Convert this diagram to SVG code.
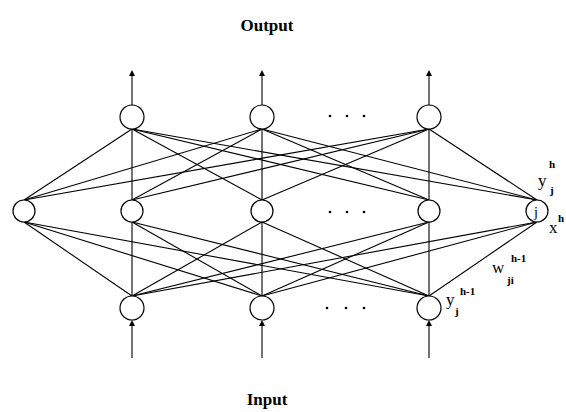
<svg xmlns="http://www.w3.org/2000/svg" width="566" height="412" viewBox="0 0 566 412">
<defs>
<marker id="ah" markerWidth="6" markerHeight="6" refX="3" refY="3" orient="auto" markerUnits="userSpaceOnUse">
<path d="M0,0 L6,3 L0,6 z" fill="#000"/>
</marker>
<style>
.n{fill:#fff;stroke:#000;stroke-width:1.2}
.e{stroke:#000;stroke-width:1.1;fill:none}
.t{font-family:"Liberation Serif",serif;font-weight:bold;font-size:17px;text-anchor:middle}
.l{font-family:"Liberation Serif",serif;font-size:17px}
.s{font-family:"Liberation Serif",serif;font-size:11px;font-weight:bold}
.d{fill:#000}
</style>
</defs>
<rect width="566" height="412" fill="#fff"/>
<text class="t" x="267" y="31">Output</text>
<text class="t" x="267" y="405">Input</text>
<g id="connectors">
<line class="e" x1="132" y1="129" x2="24" y2="200"/>
<line class="e" x1="132" y1="129" x2="132" y2="200"/>
<line class="e" x1="132" y1="129" x2="262" y2="200"/>
<line class="e" x1="132" y1="129" x2="429" y2="200"/>
<line class="e" x1="132" y1="129" x2="537" y2="200"/>
<line class="e" x1="262" y1="129" x2="24" y2="200"/>
<line class="e" x1="262" y1="129" x2="132" y2="200"/>
<line class="e" x1="262" y1="129" x2="262" y2="200"/>
<line class="e" x1="262" y1="129" x2="429" y2="200"/>
<line class="e" x1="262" y1="129" x2="537" y2="200"/>
<line class="e" x1="429" y1="129" x2="24" y2="200"/>
<line class="e" x1="429" y1="129" x2="132" y2="200"/>
<line class="e" x1="429" y1="129" x2="262" y2="200"/>
<line class="e" x1="429" y1="129" x2="429" y2="200"/>
<line class="e" x1="429" y1="129" x2="537" y2="200"/>
<line class="e" x1="24" y1="222" x2="132" y2="296"/>
<line class="e" x1="24" y1="222" x2="262" y2="296"/>
<line class="e" x1="24" y1="222" x2="429" y2="296"/>
<line class="e" x1="132" y1="222" x2="132" y2="296"/>
<line class="e" x1="132" y1="222" x2="262" y2="296"/>
<line class="e" x1="132" y1="222" x2="429" y2="296"/>
<line class="e" x1="262" y1="222" x2="132" y2="296"/>
<line class="e" x1="262" y1="222" x2="262" y2="296"/>
<line class="e" x1="262" y1="222" x2="429" y2="296"/>
<line class="e" x1="429" y1="222" x2="132" y2="296"/>
<line class="e" x1="429" y1="222" x2="262" y2="296"/>
<line class="e" x1="429" y1="222" x2="429" y2="296"/>
<line class="e" x1="537" y1="222" x2="132" y2="296"/>
<line class="e" x1="537" y1="222" x2="262" y2="296"/>
<line class="e" x1="537" y1="222" x2="429" y2="296"/>
<line class="e" x1="132" y1="105" x2="132" y2="73" marker-end="url(#ah)"/>
<line class="e" x1="262" y1="105" x2="262" y2="73" marker-end="url(#ah)"/>
<line class="e" x1="429" y1="105" x2="429" y2="73" marker-end="url(#ah)"/>
<line class="e" x1="132" y1="358" x2="132" y2="323" marker-end="url(#ah)"/>
<line class="e" x1="262" y1="358" x2="262" y2="323" marker-end="url(#ah)"/>
<line class="e" x1="429" y1="358" x2="429" y2="323" marker-end="url(#ah)"/>
</g>
<g id="n-top-1"><circle class="n" cx="132" cy="117" r="12"/></g>
<g id="n-top-2"><circle class="n" cx="262" cy="117" r="12"/></g>
<g id="n-top-3"><circle class="n" cx="429" cy="117" r="12"/></g>
<g id="n-mid-0"><circle class="n" cx="24" cy="211" r="11"/></g>
<g id="n-mid-1"><circle class="n" cx="132" cy="211" r="11"/></g>
<g id="n-mid-2"><circle class="n" cx="262" cy="211" r="11"/></g>
<g id="n-mid-3"><circle class="n" cx="429" cy="211" r="11"/></g>
<g id="n-mid-j"><circle class="n" cx="537" cy="211" r="11"/><text class="l" x="534" y="217" style="font-size:14px">j</text></g>
<g id="n-bot-1"><circle class="n" cx="132" cy="308" r="12"/></g>
<g id="n-bot-2"><circle class="n" cx="262" cy="308" r="12"/></g>
<g id="n-bot-3"><circle class="n" cx="429" cy="308" r="12"/></g>
<g id="dots">
<circle class="d" cx="330" cy="116" r="1.3"/><circle class="d" cx="347" cy="116" r="1.3"/><circle class="d" cx="364" cy="116" r="1.3"/>
<circle class="d" cx="330" cy="212" r="1.3"/><circle class="d" cx="347" cy="212" r="1.3"/><circle class="d" cx="364" cy="212" r="1.3"/>
<circle class="d" cx="327" cy="308" r="1.3"/><circle class="d" cx="346" cy="308" r="1.3"/><circle class="d" cx="364" cy="308" r="1.3"/>
</g>
<g id="labels">
<text class="l" x="538" y="186">y</text><text class="s" x="549" y="168">h</text><text class="s" x="550" y="194">j</text>
<text class="l" x="549" y="233">x</text><text class="s" x="558" y="222">h</text>
<text class="l" x="492" y="273">w</text><text class="s" x="511" y="262">h-1</text><text class="s" x="507" y="284">ji</text>
<text class="l" x="446" y="305">y</text><text class="s" x="460" y="295">h-1</text><text class="s" x="455" y="315">j</text>
</g>
</svg>
